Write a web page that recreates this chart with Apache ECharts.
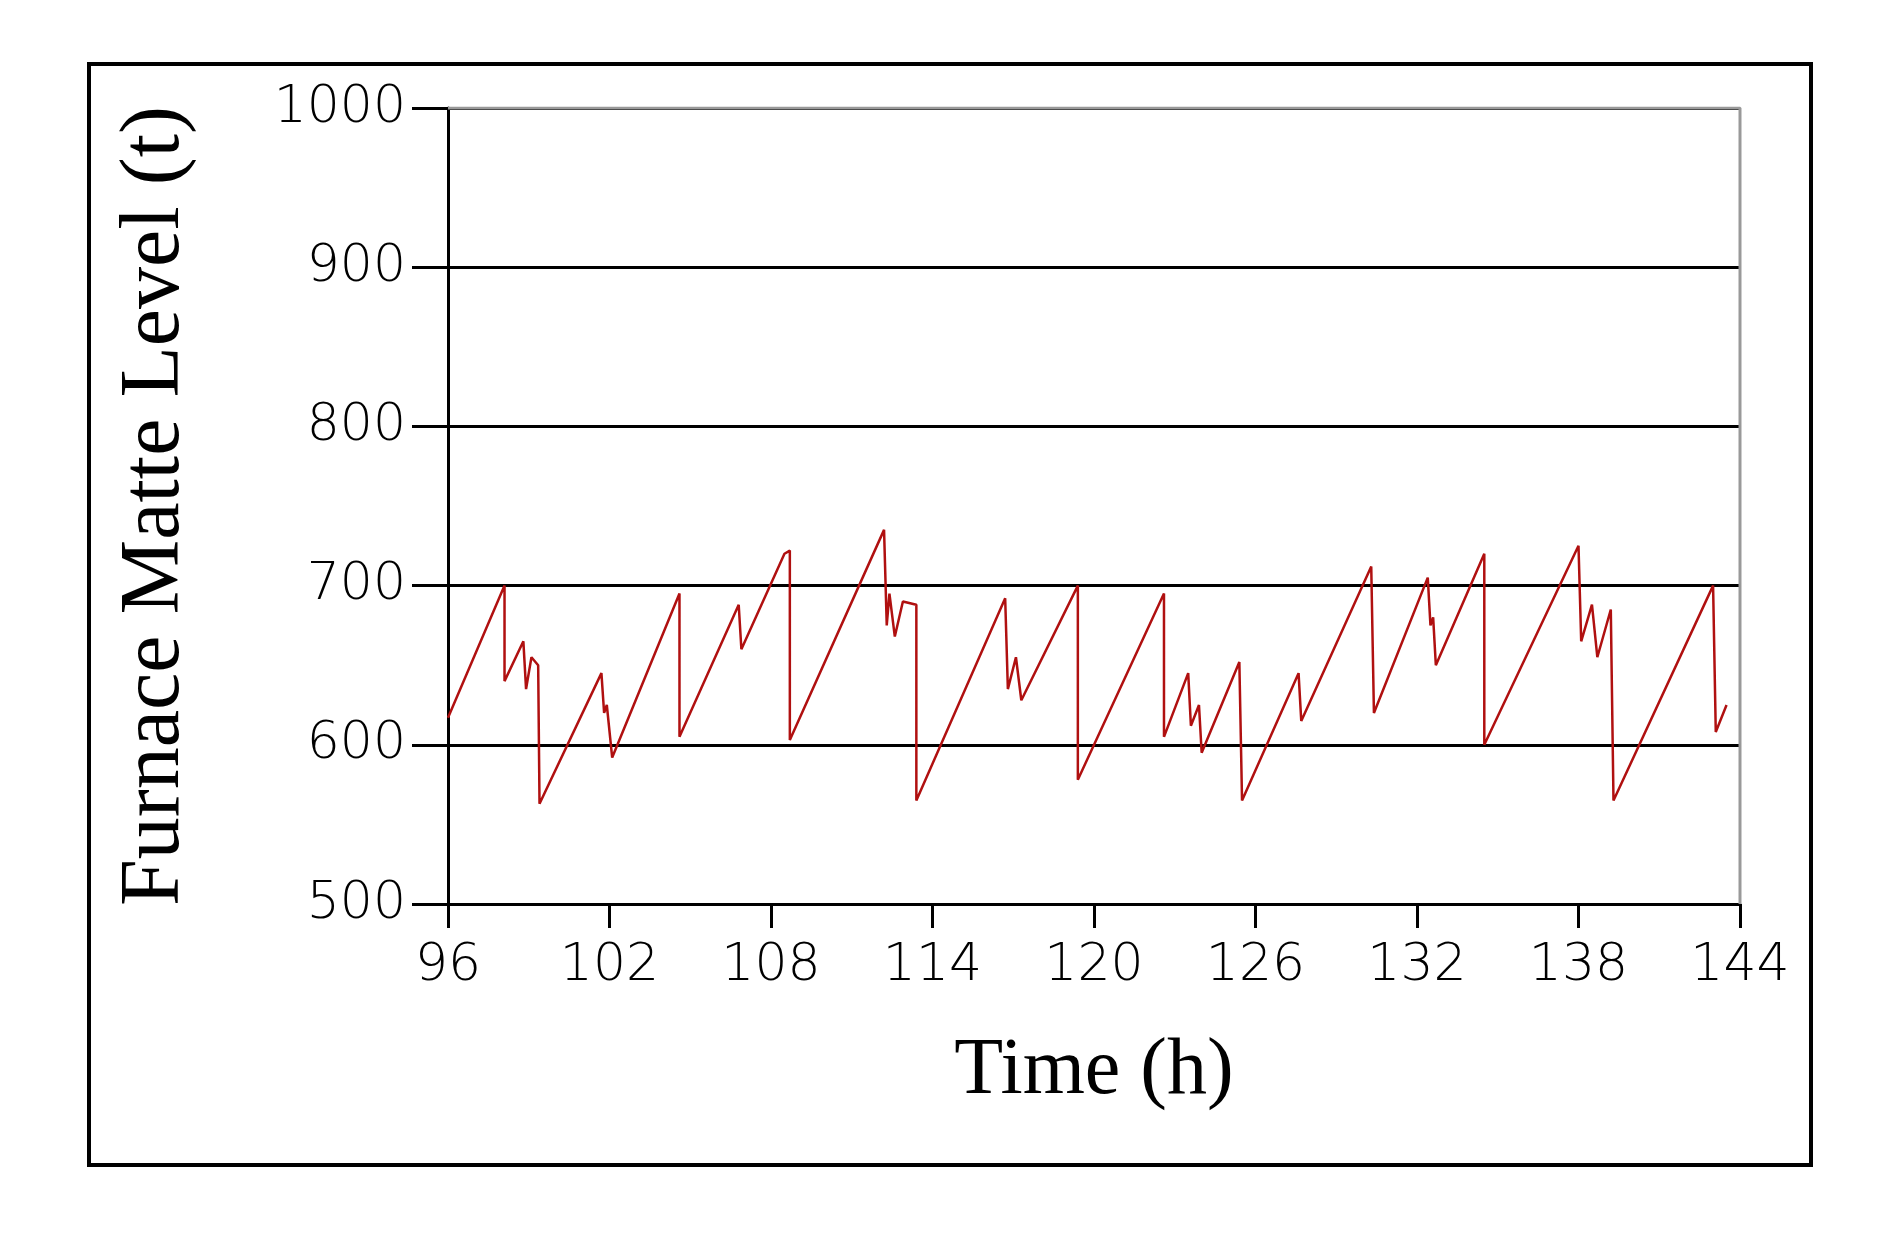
<!DOCTYPE html>
<html><head><meta charset="utf-8">
<script src="https://cdn.jsdelivr.net/npm/echarts@6/dist/echarts.min.js"></script>
<style>html,body{margin:0;padding:0;background:#fff}#c{width:1888px;height:1244px}</style>
</head><body><div id="c"></div>
<script>
const timeH = [96,98.1,98.1,98.8,98.9,99.1,99.35,99.4,101.7,101.8,101.9,102.1,104.6,104.6,106.8,106.9,108.5,108.7,108.7,112.2,112.3,112.4,112.6,112.9,113.4,113.4,116.7,116.8,117.1,117.3,119.4,119.4,122.6,122.6,123.5,123.6,123.9,124.0,125.4,125.5,127.6,127.7,130.3,130.4,132.4,132.5,132.6,132.7,134.5,134.5,138.0,138.1,138.5,138.7,139.2,139.3,143.0,143.1,143.5];
const matteT = [617,700,640,665,635,655,650,563,645,620,625,592,695,605,688,660,720,722,603,735,675,695,668,690,688,565,692,635,655,628,700,578,695,605,645,612,625,595,652,565,645,615,712,620,705,675,680,650,720,600,725,665,688,655,685,565,700,608,625];
const yTicks = [500,600,700,800,900,1000];
const chart = echarts.init(document.getElementById('c'));
chart.setOption({
  animation:false,
  graphic:[{type:'rect',shape:{x:89,y:64,width:1722,height:1101},style:{fill:'none',stroke:'#000',lineWidth:4}}],
  grid:{left:448,right:148,top:108,bottom:340},
  xAxis:{type:'value',min:96,max:144,interval:6,name:'Time (h)',nameLocation:'middle',nameGap:128,
    nameTextStyle:{fontFamily:'Liberation Serif',fontSize:80,color:'#000'},
    axisLine:{lineStyle:{color:'#000',width:3}},axisTick:{length:24,lineStyle:{color:'#000',width:3}},
    axisLabel:{fontFamily:'DejaVu Sans',fontSize:52,color:'#000',margin:36,fontWeight:200},
    splitLine:{show:false}},
  yAxis:{type:'value',min:500,max:1000,interval:100,name:'Furnace Matte Level (t)',nameLocation:'middle',nameGap:250,
    nameTextStyle:{fontFamily:'Liberation Serif',fontSize:84,color:'#000'},
    axisLine:{lineStyle:{color:'#000',width:3}},axisTick:{length:36,lineStyle:{color:'#000',width:3}},
    axisLabel:{fontFamily:'DejaVu Sans',fontSize:52,color:'#000',margin:42,fontWeight:200,
      formatter:v=>yTicks.includes(v)?String(v):''},
    splitLine:{lineStyle:{color:'#000',width:3}}},
  series:[
    {type:'line',data:timeH.map((t,i)=>[t,matteT[i]]),showSymbol:false,lineStyle:{color:'#b01010',width:2.5}},
    {type:'line',data:[[96,1000],[144,1000],[144,500]],showSymbol:false,silent:true,lineStyle:{color:'#999',width:3},z:1}
  ]
});
</script></body></html>
